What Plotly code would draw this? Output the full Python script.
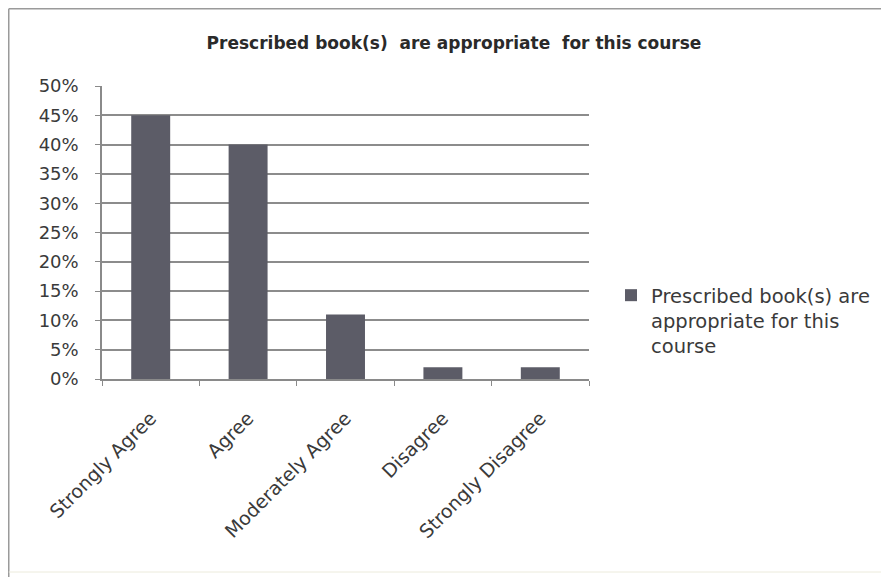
import plotly.graph_objects as go

categories = ["Strongly Agree", "Agree", "Moderately Agree", "Disagree", "Strongly Disagree"]
values = [0.45, 0.40, 0.11, 0.02, 0.02]
series_name = "Prescribed book(s) are<br>appropriate for this<br>course"
title_text = "Prescribed book(s)  are appropriate  for this course"

# page body has an 8px margin; work in shifted coordinates
W, H = 881, 569
L, T = 94, 78
PW, PH = 487, 293
R = W - L - PW
B = H - T - PH

FONT = "DejaVu Sans, sans-serif"

fig = go.Figure()
fig.add_trace(go.Bar(
    x=categories, y=values, name=series_name,
    marker=dict(color="#5c5c67", line=dict(width=0)),
    showlegend=True,
))

def px_x(x):
    return (x - L) / PW

def px_y(y):
    return (T + PH - y) / PH

fig.update_layout(
    width=W, height=H,
    margin=dict(l=L, r=R, t=T, b=B, autoexpand=False),
    paper_bgcolor="white", plot_bgcolor="white",
    font=dict(family=FONT, color="#3a3a3a", size=18),
    bargap=0.6,
    title=dict(text="<b>" + title_text + "</b>", x=446 / W, xanchor="center",
               y=1 - 35 / H, yanchor="middle",
               font=dict(size=17, color="#2a2a2a", family=FONT)),
    xaxis=dict(
        showgrid=False, showline=True, linecolor="#8a8a8a", linewidth=1.5,
        ticks="outside", tickson="boundaries", ticklen=5, tickcolor="#8a8a8a",
        tickangle=-45, tickfont=dict(size=19, color="#3a3a3a"),
        ticklabelstandoff=19,
    ),
    yaxis=dict(
        range=[0, 0.5], dtick=0.05, tickformat=".0%",
        showgrid=True, gridcolor="#8c8c8c", gridwidth=1.5,
        showline=True, linecolor="#8a8a8a", linewidth=1.5,
        ticks="outside", ticklen=5, tickcolor="#8a8a8a",
        tickfont=dict(size=18, color="#3a3a3a"), zeroline=False,
        ticklabelstandoff=13,
    ),
    legend=dict(x=px_x(603), y=px_y(268), xanchor="left", yanchor="top",
                valign="top",
                font=dict(size=19.5, color="#3a3a3a"), bgcolor="rgba(0,0,0,0)",
                itemwidth=30),
    shapes=[
        dict(type="line", xref="paper", yref="paper",
             x0=px_x(0.75), x1=px_x(W), y0=px_y(0.75), y1=px_y(0.75),
             line=dict(color="#9a9a9a", width=1.5)),
        dict(type="line", xref="paper", yref="paper",
             x0=px_x(0.75), x1=px_x(0.75), y0=px_y(H), y1=px_y(0.75),
             line=dict(color="#9a9a9a", width=1.5)),
        dict(type="line", xref="paper", yref="paper",
             x0=px_x(0.75), x1=px_x(W), y0=px_y(564), y1=px_y(564),
             line=dict(color="#ecebdc", width=1)),
    ],
)

fig.write_html("out.html")
